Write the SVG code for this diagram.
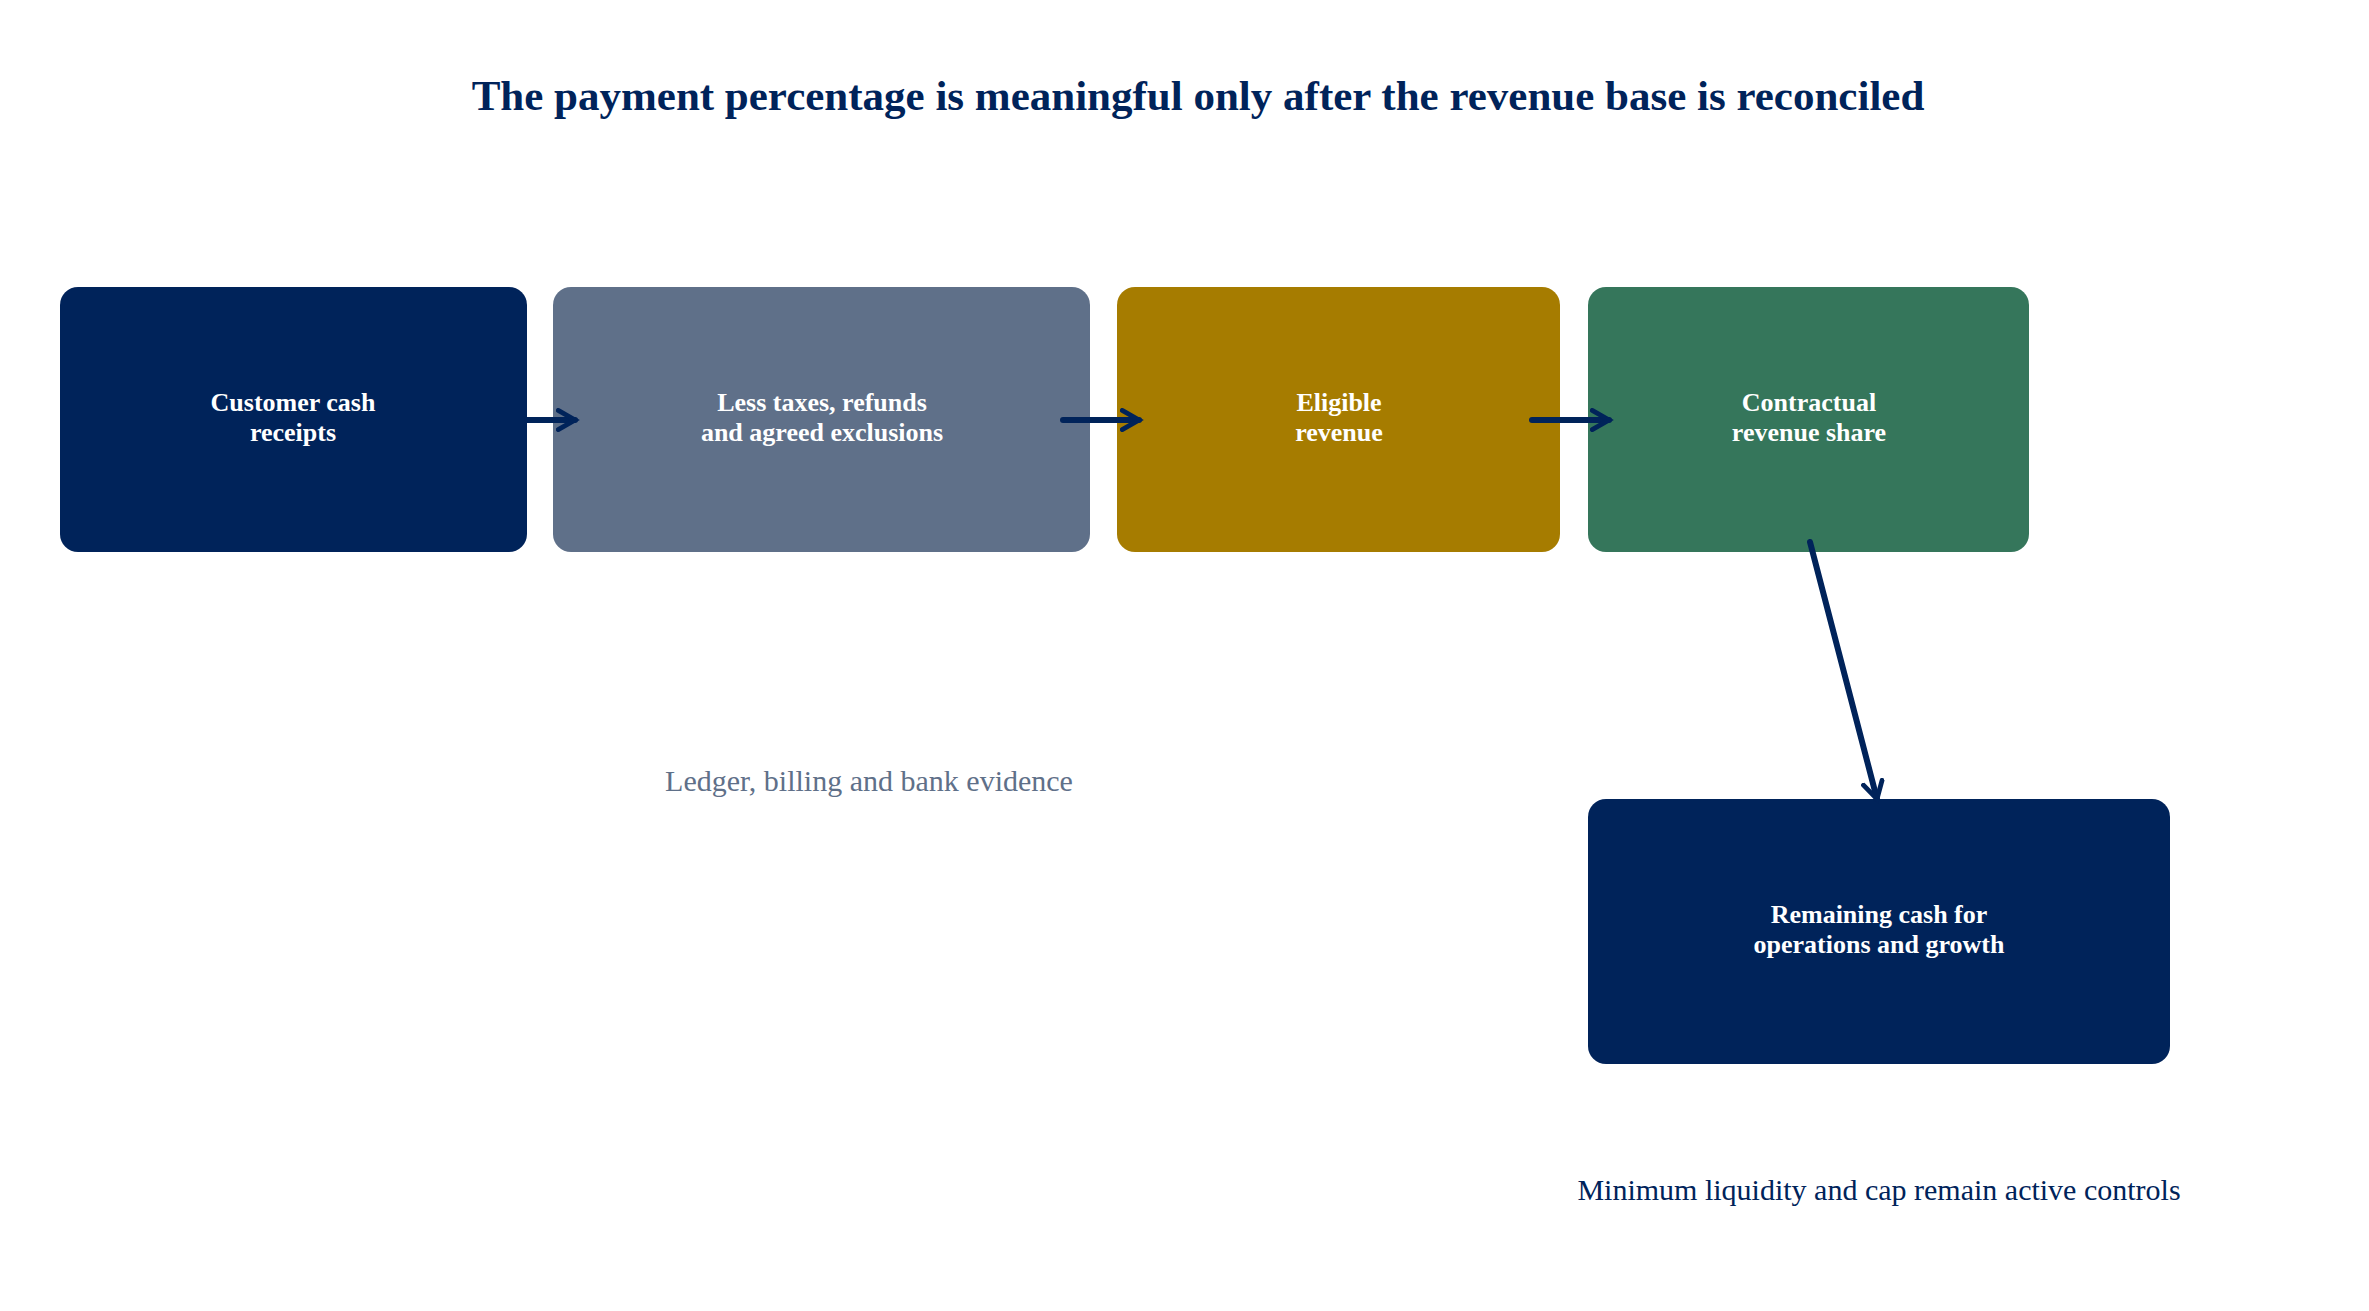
<svg xmlns="http://www.w3.org/2000/svg" width="2369" height="1311" viewBox="0 0 2369 1311">
<defs>
<style>
.lbl{font-family:"Liberation Serif",serif;font-weight:bold;font-size:26px;fill:#fff;text-anchor:middle}
.cap{font-family:"Liberation Serif",serif;font-size:30px;text-anchor:middle}
.con{stroke:#00235a;stroke-width:6;fill:none;stroke-linecap:round;marker-end:url(#ah)}
</style>
<marker id="ah" viewBox="0 0 10 10" refX="8" refY="5" markerWidth="4" markerHeight="4" orient="auto" markerUnits="strokeWidth"><path d="M1,1 L8,5 L1,9" fill="none" stroke="#00235a" stroke-width="2" stroke-linecap="round"/></marker>
</defs>
<rect width="2369" height="1311" fill="#fff"/>
<text x="1198" y="110" style="font-family:'Liberation Serif',serif;font-weight:bold;font-size:43px;fill:#00235a;text-anchor:middle">The payment percentage is meaningful only after the revenue base is reconciled</text>
<g id="n1"><rect x="60" y="287" width="467" height="265" rx="18" fill="#00235a"/><text class="lbl" x="293" y="411">Customer cash</text><text class="lbl" x="293" y="441">receipts</text></g>
<g id="n2"><rect x="553" y="287" width="537" height="265" rx="18" fill="#5f7089"/><text class="lbl" x="822" y="411">Less taxes, refunds</text><text class="lbl" x="822" y="441">and agreed exclusions</text></g>
<g id="n3"><rect x="1117" y="287" width="443" height="265" rx="18" fill="#a67c00"/><text class="lbl" x="1339" y="411">Eligible</text><text class="lbl" x="1339" y="441">revenue</text></g>
<g id="n4"><rect x="1588" y="287" width="441" height="265" rx="18" fill="#35765b"/><text class="lbl" x="1809" y="411">Contractual</text><text class="lbl" x="1809" y="441">revenue share</text></g>
<g id="n5"><rect x="1588" y="799" width="582" height="265" rx="18" fill="#00235a"/><text class="lbl" x="1879" y="923">Remaining cash for</text><text class="lbl" x="1879" y="953">operations and growth</text></g>
<g id="connectors">
<line class="con" x1="527" y1="420" x2="575" y2="420"/>
<line class="con" x1="1063" y1="420" x2="1139" y2="420"/>
<line class="con" x1="1532" y1="420" x2="1609" y2="420"/>
<line class="con" x1="1810" y1="542" x2="1877" y2="799"/>
</g>
<text class="cap" x="869" y="791" fill="#5f7089">Ledger, billing and bank evidence</text>
<text class="cap" x="1879" y="1200" fill="#00235a">Minimum liquidity and cap remain active controls</text>
</svg>
